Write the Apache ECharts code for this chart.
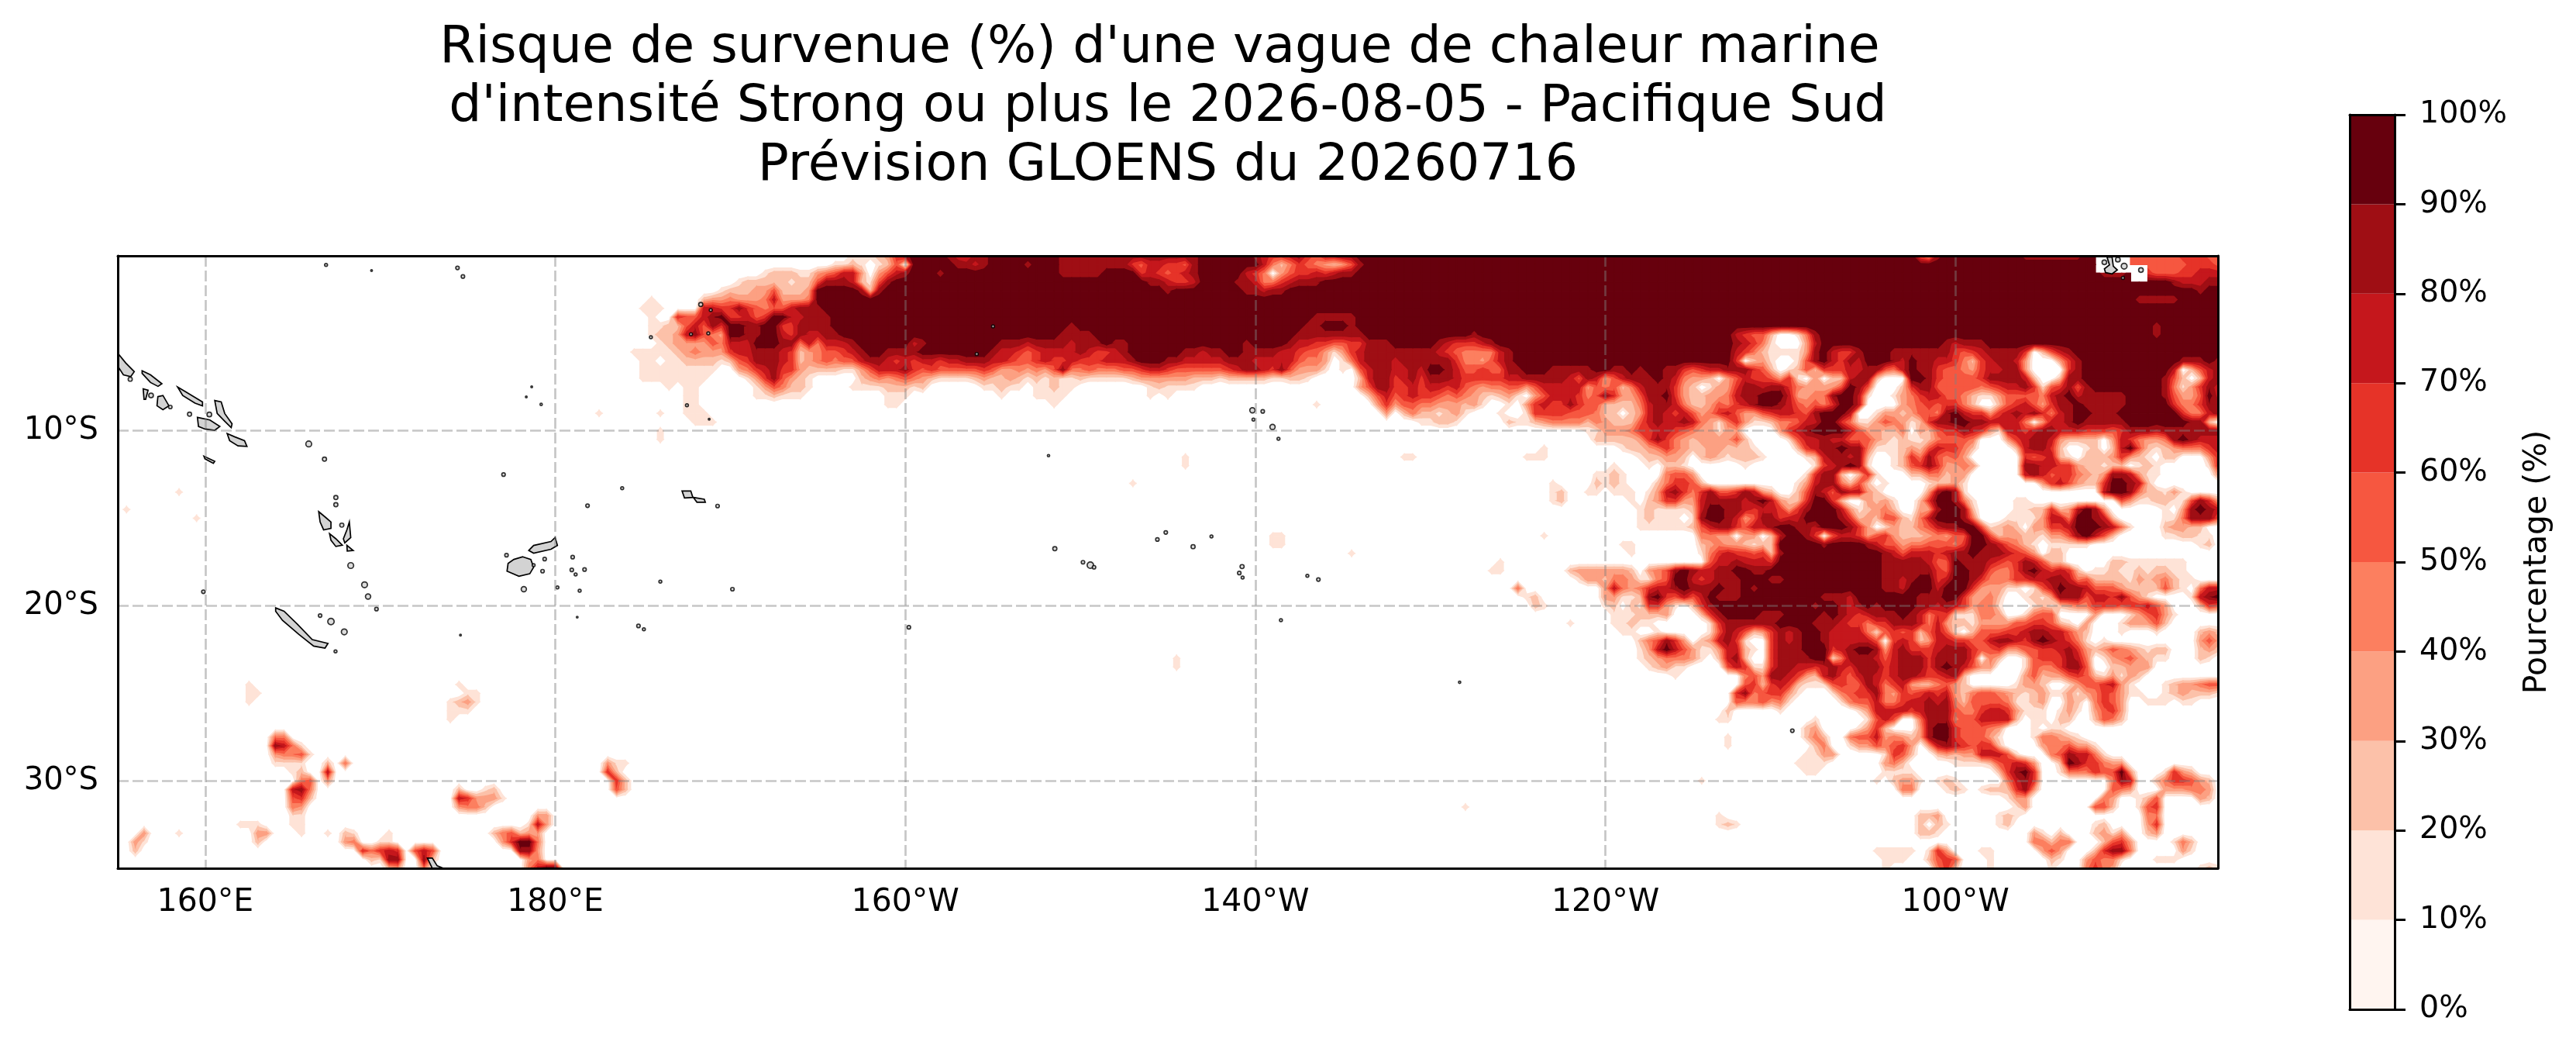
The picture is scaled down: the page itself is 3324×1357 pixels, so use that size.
<!DOCTYPE html>
<html><head><meta charset="utf-8">
<style>html,body{margin:0;padding:0;background:#fff}#c{width:3324px;height:1357px}</style>
<script src="https://cdn.jsdelivr.net/npm/echarts@6/dist/echarts.min.js"></script>
</head><body><div id="c"></div>
<script>
const titleText = "Risque de survenue (%) d'une vague de chaleur marine \nd'intensité Strong ou plus le 2026-08-05 - Pacifique Sud\nPrévision GLOENS du 20260716";
const colorbarName = "Pourcentage (%)";
const lonTicks = [160,180,200,220,240,260];
const lonLabels = ['160°E','180°E','160°W','140°W','120°W','100°W'];
const latTicks = [-10,-20,-30];
const latLabels = ['10°S','20°S','30°S'];
const bandEdges = [0,10,20,30,40,50,60,70,80,90,100];
const bandColors = ['#fff5f0','#fee3d7','#fcc1a9','#fca082','#fc7f5f','#f65740','#e63328','#c5171c','#9f0e14','#67000d'];
// risk band per 0.5 degree cell, row = 0 to 35S, column = 155E eastward. @n jumps to column n, k*d repeats d, x = no data (masked)
const riskRows = [
"@84 1112368 4*9 87688 8*9 9*8 7*8 6*9 876678657788 64*9 538 9*9 7*8 9 9 3*x 5 5555566655",
"@82 112101250 5*9 8878 4*9 8 3*9 8*8 65776658 7*9 742465432358 83*9 9 3*x 55 555556665",
"@74 12221134577303578 3*9 8 13*9 5*8 4*9 6765678 5*9 7640356676788 84*9 98889 x 655566777",
"@71 12222212258887215899 27*9 887667 4*9 8874467888 97*9 877788",
"@69 1222335222399999828 32*9 8 8*9 88788 104*9 8 99",
"@61 1 @67 2334333473334 151*9 5*8 5*9",
"@60 111 @67 77668654557888 160*9",
"@61 1 @64 655789667569977888 55*9 5*8 99*9",
"@61 112257586998899668888 27*9 8 26*9 88 999 8 91*9 8 7*9",
"@61 1223785439988997687788 25*9 8888 23*9 8*8 12*9 8 29*9 7655200148 38*9 8 7*9",
"@62 12333354777999884747778 6*9 78 8*9 888788887888988 13*9 8 4*9 877665566888 5*9 8766678 27*9 8764100037 14*9 87888 27*9",
"@59 111112343336778887623455678 998888 8*9 8776567777876678 6*9 887889988887765531367888 88888765444478 25*9 764211113897668 999 7*8 65678888 602578 17*9",
"@60 1101122221256888762345455788767 67767 78887 76556 76676 66777 89998 87777 78887 77775 44301 47888 78888886443578 25*9 602310015897687 99987 98877 64267 88730 00368 11*9 88898",
"@60 111111111 00 346786632222113 57778 65655 55565 33434 35844 54445 56776 55555 56788 76853 33101 05788 7787998755655 88999 88888 99889 89988 65677 88865 20125 26667 78 85479 88655 43677 88300 0068 10*9 702578",
"@60 8*1 4*0 13685321 5*0 23434 54321 11123 22321 21211 21111 12333 33322 21222 22112 21000 00 2788 6786888766666 77888 88758 73578 88987 43320 35766 53610 30227 88 20009 98655 55688 88720 0288 9*9 8520278",
"@63 1 @65 11 @73 1354221 @84 111122212 @99 11211011211 @118 121111 @142 3588 6676776754344 55357 77773 54524 78886 32013 36887 88643 33359 85 00026 88555 55456 77861 56858 8*9 8413687",
"@65 11 @73 112111 @88 111 @101 1 @105 1111 @118 1 @120 1 @143 257 5676654543212 31035 77764 58633 58896 32233 47889 99733 44899 71 00134 67755 42113 55554 78978 8888 4*9 8533597",
"@65 11 @88 11 @107 1 @137 1 @144 36 3554433323100 10367 66865 52222 47887 42235 46789 98754 54699 70 00034 56566 42002 56753 68898 8888 5*9 644688",
"@55 1 @62 1 @65 111 @145 3 0242212310001 00166 66555 42202 37876 75346 75335 67765 89997 00 13323 55489 76636 78786 47899 88899 99999 64478",
"@66 111 @149 11221 @159 21123 44442 43222 57877 87431 46311 24457 79964 11 35431 26889 98877 77403 77898 88889 99999 98820",
"@62 1 @168 11333 46677 65433 13300 00367 89999 753 32240 32566 87631 77678 87776 66568 88788 88888",
"@62 1 @169 22222 36864 32333 35200 00157 78775 55 32121 12455 54000 36788 73222 20376 43348 98777",
"@163 1 @172 12234 64322 33222 10000 26788 9884 11123 25766 42000 02788 62001 20279 52123 44467",
"@122 1 @147 11 @161 111 @174 12233 20232 12221 00001 27887 82 00126 48545 30000 00656 72102 22363 21022 00036",
"@122 1 @171 1 @175 10221 @186 1 @194 1678981 00125 68633 43000 00887 76632 21220 12100 00016",
"@169 1121 @177 4553 @193 16882026 10002 24423 30000 00787 56643 23887 31100 00003",
"@116 1 @164 1 @169 2121 @176 246652 @192 137884252 01000 01223 1 8*0 3675322699872",
"@7 1 @164 12 @168 11 @171 111 @175 13786 46855 68732 00258 75877 3 200000 38981 15*0 7998422 131",
"@164 12 @173 1 @175 23663 37888 87897 32269 96200 3 23100 26998 41 0000 11 10*0 53112211 5863",
"@1 1 @174 12111 12799 88767 76368 99973 12 34200 33899 82000 01122 62379 83000 00010 38987",
"@9 1 @174 12111 01899 87358 86779 99986 23 25521 47999 84000 11113 77499 87200 00011 48885",
"@174 11111 12578 86577 89988 79998 63 01322 45788 99512 32033 66799 98741 00023 32200",
"@132 11 @163 1 @181 44330 33027 99860 57763 56322 23435 59952 33221 33589 75200 00011 22110",
"@132 11 @172 11 @181 23433 21229 99998 99998 75534 45554 69987 54210 11111 12*0 120",
"@141 1 @173 1 @181 14676 65628 10*9 98757 77678 89888 76530 22",
"@158 1 @182 57787 7769 10*9 98888 87559 88876 56875 22 5*0 221111111",
"@157 11 @166 23333 33203 45898 77889 9889 11*9 98888 88659 98854 46897 67620 11211 21221 1",
"@167 13324 43114 59976 78889 9988 10*9 98878 99679 98644 46677 88745 22221 32342 11",
"@160 4 @170 37434 67789 88898 89899 11*9 98879 99799 96333 11015 79887 55532 22252 10477",
"@161 12 @170 33112 89657 57988 8 8*9 98887999 99998 88996 33420 01213 88857 76853 10000 1789",
"@162 21 @170 12021 66310 268 11*9 89987898 99998 87876 34410 00121 23446 66566 75300 0265",
"@171 11122 23000 268 9999 888 9999 8987678 88987 46611 14430 01455 00003 00013 5631",
"@166 1 @171 11211 000000 16 888888 9999 888 76646 68887 47322 13333 55665 21030 00133 352",
"@172 11 @176 1 @182 15875 23687 89987 77741 56562 57510 25556 67887 75320 00100 01000 0232",
"@174 24586 30237 86100 68789 98777 775 06762 37766 55788 76898 76410 1 10*0 353",
"@174 13797 53113 77210 68889 99678 998 37866 67888 65563 35566 78632 35432 12200 0232",
"@121 1 @174 12344 43102 78200 68888 99148 887 57888 68888 60420 01566 68740 13453 21100 0210",
"@121 1 @175 12311 00005 76116 88776 78768 88 67888 68987 53300 01544 68850 02233 3",
"@178 1 @186 45388 76327 86578 7 67887 66782 000000 35233 56521 3132",
"@15 1 @39 1 @186 56267 62111 56558 7 46732 24532 00000 13320 01355 67310 00123 3455",
"@15 11 @40 11 @185 68456 63100 01456 68 43656 76732 45543 21231 13134 65311 00123 2221",
"@15 1 @38 1231 @185 54453 41000 00145 57 44677 87842 55554 11230 03204 65300 11101 1",
"@38 111 @184 2 @190 1 @199 137 77767 88854 46776 31110 13103 563",
"@38 1 @183 11 @194 1 @200 15 75004 88845 57777 20110 22002 542",
"@193 23 @199 136 20003 89965 55430 00101 1",
"@18 44 @184 1 @193 242 @198 4557 34323 89965 55310 00144 321",
"@18 8741 @184 1 @194 24 @198 1335 45630 37876 56620 00034 45331",
"@18 34451 @193 1133 @202 16520 02323 37775 10004 58774 1",
"@18 1111 @24 2 @26 4 @56 311 @192 1111 @202 34200 00011 11256 76300 29866 433",
"@20 12 @24 7 @56 62 @193 11 @202 1111 @215 26896 00144 46559 3 @234 1632",
"@21 45 @24 3 @57 62 @181 1 @201 1 @203 23310 121 @216 4786 @228 487 @233 2466532",
"@20 784 @39 2 @42 12 @57 52 @204 44 @209 121 @213 1222683 @228 543 @234 333443",
"@20 562 @39 763331 @216 133 @227 43 @231 125 @238 32",
"@20 43 @39 3442 @154 1 @217 13 @226 552 @231 156",
"@20 11 @48 33 @183 1 @206 223 @215 121 @232 44",
"@14 111 @20 11 @47 173 @183 121 @206 2021 @215 12 @226 12 @232 36",
"@3 3 @7 1 @16 33 @21 1 @24 1 @26 21 @31 1 @43 245233 @206 221 @219 31 @222 2 @226 2313 @232 23",
"@2 31 @16 2 @26 34 @30 11 @44 36994 @219 44244 @227 2563 @235 142",
"@2 2 @28 64676 @34 575 @46 883 @201 11111 @207 163 @213 11 @220 353 @226 26884 @236 31",
"@29 2188 @35 82 @47 34 @202 111 @207 2565 @214 1 @221 21 @225 35441 @233 111",
"@31 23 @35 4 @47 4799 @202 1 @208 462 @214 1 @221 1 @225 4643 @238 121"
];
// coastlines, lon/lat
const islandOutlines = [
[[154.98,-5.54],[155.46,-6.13],[155.94,-6.62],[155.74,-6.9],[155.32,-6.8],[154.98,-6.28]],
[[156.39,-6.57],[156.87,-6.8],[157.52,-7.31],[157.3,-7.46],[156.87,-7.24],[156.39,-6.72]],
[[158.42,-7.5],[158.85,-7.75],[159.84,-8.35],[159.84,-8.57],[159.41,-8.42],[158.71,-7.98]],
[[156.45,-7.6],[156.73,-7.68],[156.59,-8.2],[156.5,-8.2]],
[[157.29,-8.05],[157.58,-7.98],[157.92,-8.57],[157.58,-8.79],[157.24,-8.57]],
[[160.54,-8.27],[160.91,-8.35],[161.11,-9.01],[161.53,-9.6],[161.48,-9.82],[161.11,-9.45],[160.68,-9.01]],
[[159.55,-9.23],[160.26,-9.38],[160.83,-9.75],[160.54,-9.97],[159.98,-9.9],[159.61,-9.75]],
[[161.25,-10.16],[161.67,-10.34],[162.24,-10.56],[162.38,-10.89],[161.87,-10.86],[161.39,-10.56]],
[[159.92,-11.45],[160.54,-11.74],[160.46,-11.86],[159.98,-11.6]],
[[166.48,-14.62],[166.84,-14.92],[167.18,-15.21],[167.18,-15.58],[166.76,-15.66],[166.56,-15.21]],
[[167.1,-15.88],[167.46,-16.17],[167.83,-16.54],[167.46,-16.61],[167.18,-16.25]],
[[168.23,-15.21],[168.31,-16.1],[167.97,-16.4],[167.89,-16.17],[168.09,-15.66]],
[[168.09,-16.54],[168.45,-16.84],[168.11,-16.87]],
[[179.99,-16.1],[179.75,-16.33],[178.76,-16.55],[178.48,-16.84],[178.76,-16.99],[179.75,-16.77],[180.12,-16.55]],
[[178.14,-17.2],[178.6,-17.35],[178.76,-17.8],[178.54,-18.17],[177.92,-18.31],[177.24,-18.02],[177.3,-17.58],[177.63,-17.35]],
[[187.24,-13.44],[187.74,-13.44],[187.86,-13.81],[187.38,-13.84]],
[[187.89,-13.81],[188.51,-13.91],[188.57,-14.08],[188.09,-14.08]],
[[164.02,-20.12],[164.5,-20.31],[165.26,-21.05],[166.11,-21.93],[167.01,-22.15],[166.84,-22.42],[166.19,-22.3],[165.35,-21.64],[164.41,-20.83],[164.02,-20.31]],
[[172.69,-34.42],[172.97,-34.42],[173.25,-34.86],[173.6,-35],[172.97,-35]],
[[268.66,-0.07],[268.95,-0.07],[269.02,-0.59],[269.25,-0.81],[268.95,-1.03],[268.58,-0.96],[268.51,-0.74],[268.8,-0.52]]
];
// small islands: lon, lat, marker size
const isletLons = [155.71,159.1,160.23,165.91,166.81,166.9,169.5,174.41,174.72,178.65,178.34,179.19,177.04,183.82,181.84,189.27,167.46,167.46,167.8,168.31,177.21,179.39,180.99,180.94,181.67,188.31,188.88,185.46,187.75,188.74,187.52,188.79,156.9,158.0,169.1,169.3,169.78,159.89,178.2,180.12,181.39,186,190.12,181.25,184.75,185.06,174.58,166.56,167.18,167.94,167.44,181.16,179.27,178.76,205.01,204.08,219.83,220.42,219.89,220.98,221.32,208.18,208.54,210.15,210.57,210.78,214.4,214.88,216.44,217.49,219.24,219.08,219.27,222.97,223.6,221.46,200.2,231.67,250.68,269.64,268.51,269.28,269.57,270.6];
const isletLats = [-7.05,-9.05,-9.07,-10.75,-11.62,-0.52,-0.84,-0.69,-1.18,-7.49,-8.06,-8.49,-12.5,-13.28,-14.28,-14.3,-13.81,-14.22,-15.39,-17.7,-17.11,-17.33,-17.22,-17.95,-17.93,-2.78,-3.1,-4.65,-4.48,-4.43,-8.54,-9.34,-7.98,-8.64,-18.8,-19.47,-20.19,-19.2,-19.05,-18.95,-19.14,-18.62,-19.05,-20.65,-21.15,-21.34,-21.68,-20.56,-20.9,-21.49,-22.61,-18.21,-18.02,-17.68,-4.03,-5.61,-8.83,-8.89,-9.36,-9.78,-10.46,-11.42,-16.74,-17.51,-17.68,-17.8,-16.21,-15.81,-16.62,-16.04,-17.76,-18.13,-18.39,-18.29,-18.5,-20.82,-21.23,-24.37,-27.14,-0.59,-0.37,-0.22,-1.26,-0.81];
const isletSizes = [7,7,8,10,7,5,3,6,6,3,3,4,6,5,6,6,7,7,7,10,6,6,6,6,6,7,5,5,5,5,5,3,8,6,10,9,6,6,9,5,5,5,6,3,6,5,3,6,11,10,5,5,6,5,5,5,9,6,5,9,5,4,7,6,11,6,6,6,7,5,7,6,5,5,6,5,6,4,6,10,8,8,5,8];

const NCOL = 241, NROW = 71;
const grid = riskRows.map(s => {
  const a = new Array(NCOL).fill(0); let p = 0;
  s.trim().split(/\s+/).forEach(t => {
    if (t[0] === '@') { p = +t.slice(1); return; }
    const m = t.match(/^(\d+)\*(.)$/);
    const str = m ? m[2].repeat(+m[1]) : t;
    for (const ch of str) { if (p < NCOL) a[p] = ch === 'x' ? NaN : (ch === '0' ? 0 : +ch * 10 + 5); p++; }
  });
  return a;
});
const lonOf = c => 155 + c * 0.5, latOf = r => -r * 0.5;
function clip(c, r, L) {
  const pts = [[c,r],[c+1,r],[c+1,r+1],[c,r+1]];
  const out = [];
  for (let i = 0; i < 4; i++) {
    const a = pts[i], b = pts[(i+1)%4];
    const va = grid[a[1]][a[0]], vb = grid[b[1]][b[0]];
    if (va >= L) out.push([lonOf(a[0]), latOf(a[1])]);
    if ((va >= L) !== (vb >= L)) {
      const t = (L - va) / (vb - va);
      out.push([lonOf(a[0] + (b[0]-a[0]) * t), latOf(a[1] + (b[1]-a[1]) * t)]);
    }
  }
  return out;
}
function levelSeries(k) {
  const L = bandEdges[k], col = bandColors[k], data = [];
  for (let r = 0; r < NROW - 1; r++) for (let c = 0; c < NCOL - 1; c++) {
    const v = [grid[r][c], grid[r][c+1], grid[r+1][c+1], grid[r+1][c]];
    if (v.some(Number.isNaN)) continue;
    const mx = Math.max(...v), mn = Math.min(...v);
    if (mx < L) continue;
    if (k < 9 && mn >= bandEdges[k+1]) continue;
    data.push([lonOf(c), latOf(r), L]);
  }
  return {
    type: 'custom', coordinateSystem: 'cartesian2d', xAxisIndex: 0, yAxisIndex: 0, z: 2 + k * 0.1,
    clip: true, silent: true, progressive: 0, animation: false, encode: {x: 0, y: 1},
    data,
    renderItem(p, api) {
      const c = Math.round((api.value(0) - 155) * 2), r = Math.round(-api.value(1) * 2);
      const poly = clip(c, r, L);
      if (poly.length < 3) return null;
      return {type: 'polygon', shape: {points: poly.map(q => api.coord(q))}, style: {fill: col, stroke: col, lineWidth: 1.4}};
    }
  };
}
const mapSeries = [];
for (let k = 1; k < 10; k++) mapSeries.push(levelSeries(k));
mapSeries.push({
  type: 'custom', coordinateSystem: 'cartesian2d', xAxisIndex: 0, yAxisIndex: 0, z: 5, clip: true, silent: true, progressive: 0, animation: false,
  data: islandOutlines.map((o, i) => [o[0][0], o[0][1], i]), encode: {x: 0, y: 1},
  renderItem(p, api) {
    const o = islandOutlines[api.value(2)];
    return {type: 'polygon', shape: {points: o.map(q => api.coord(q))}, style: {fill: '#d3d3d3', stroke: '#000', lineWidth: 1.7}};
  }
});
mapSeries.push({
  type: 'scatter', xAxisIndex: 0, yAxisIndex: 0, z: 6, silent: true, animation: false, symbol: 'circle',
  data: isletLons.map((x, i) => ({value: [x, isletLats[i]], symbolSize: isletSizes[i] * 0.75})),
  itemStyle: {color: '#d3d3d3', borderColor: '#000', borderWidth: 1.7}
});
const barSeries = bandColors.map((col, i) => ({
  type: 'bar', xAxisIndex: 2, yAxisIndex: 2, stack: 'cb', barWidth: '100%', silent: true, animation: false, z: 2,
  data: [bandEdges[i+1] - bandEdges[i]], itemStyle: {color: col}
}));
const FONT = 'DejaVu Sans', spine = {show: true, onZero: false, lineStyle: {color: '#000', width: 3}};
const dash = {show: true, lineStyle: {color: 'rgba(128,128,128,0.45)', width: 2.7, type: [14, 5]}};
const off = {axisLabel: {show: false}, axisTick: {show: false}, splitLine: {show: false}};
const chart = echarts.init(document.getElementById('c'), null, {renderer: 'canvas', width: 3324, height: 1357, devicePixelRatio: 1});
chart.setOption({
  animation: false, backgroundColor: '#fff',
  title: {text: titleText, left: 1502, top: 20, textAlign: 'center',
    textStyle: {fontFamily: FONT, fontSize: 66.5, fontWeight: 'normal', color: '#000', lineHeight: 76}},
  grid: [{left: 152, top: 330, width: 2710, height: 790}, {left: 3032, top: 148, width: 58, height: 1154}],
  xAxis: [
    {type: 'value', gridIndex: 0, min: 155, max: 275, position: 'bottom', z: 10, axisLine: spine,
     axisTick: {show: false, customValues: lonTicks}, splitLine: dash,
     axisLabel: {customValues: lonTicks, margin: 24, fontFamily: FONT, fontSize: 41, color: '#000', formatter: v => lonLabels[lonTicks.indexOf(v)]}},
    Object.assign({type: 'value', gridIndex: 0, min: 155, max: 275, position: 'top', z: 10, axisLine: spine}, off),
    Object.assign({type: 'category', gridIndex: 1, data: ['cb'], position: 'bottom', z: 10, axisLine: spine}, off),
    Object.assign({type: 'category', gridIndex: 1, data: ['cb'], position: 'top', z: 10, axisLine: spine}, off)
  ],
  yAxis: [
    {type: 'value', gridIndex: 0, min: -35, max: 0, position: 'left', z: 10, axisLine: spine,
     axisTick: {show: false, customValues: latTicks}, splitLine: dash,
     axisLabel: {customValues: latTicks, margin: 25, padding: [3, 0, 0, 0], fontFamily: FONT, fontSize: 40, color: '#000', formatter: v => latLabels[latTicks.indexOf(v)]}},
    Object.assign({type: 'value', gridIndex: 0, min: -35, max: 0, position: 'right', z: 10, axisLine: spine}, off),
    {type: 'value', gridIndex: 1, min: 0, max: 100, interval: 10, position: 'right', z: 10, axisLine: spine,
     axisTick: {show: true, length: 14, lineStyle: {color: '#000', width: 3}}, splitLine: {show: false},
     axisLabel: {margin: 32, padding: [8, 0, 0, 0], fontFamily: FONT, fontSize: 39.5, color: '#000', formatter: '{value}%'},
     name: colorbarName, nameLocation: 'middle', nameRotate: 90, nameGap: 164,
     nameTextStyle: {fontFamily: FONT, fontSize: 41, color: '#000'}},
    Object.assign({type: 'value', gridIndex: 1, min: 0, max: 100, position: 'left', z: 10, axisLine: spine}, off)
  ],
  series: mapSeries.concat(barSeries)
});
</script></body></html>
